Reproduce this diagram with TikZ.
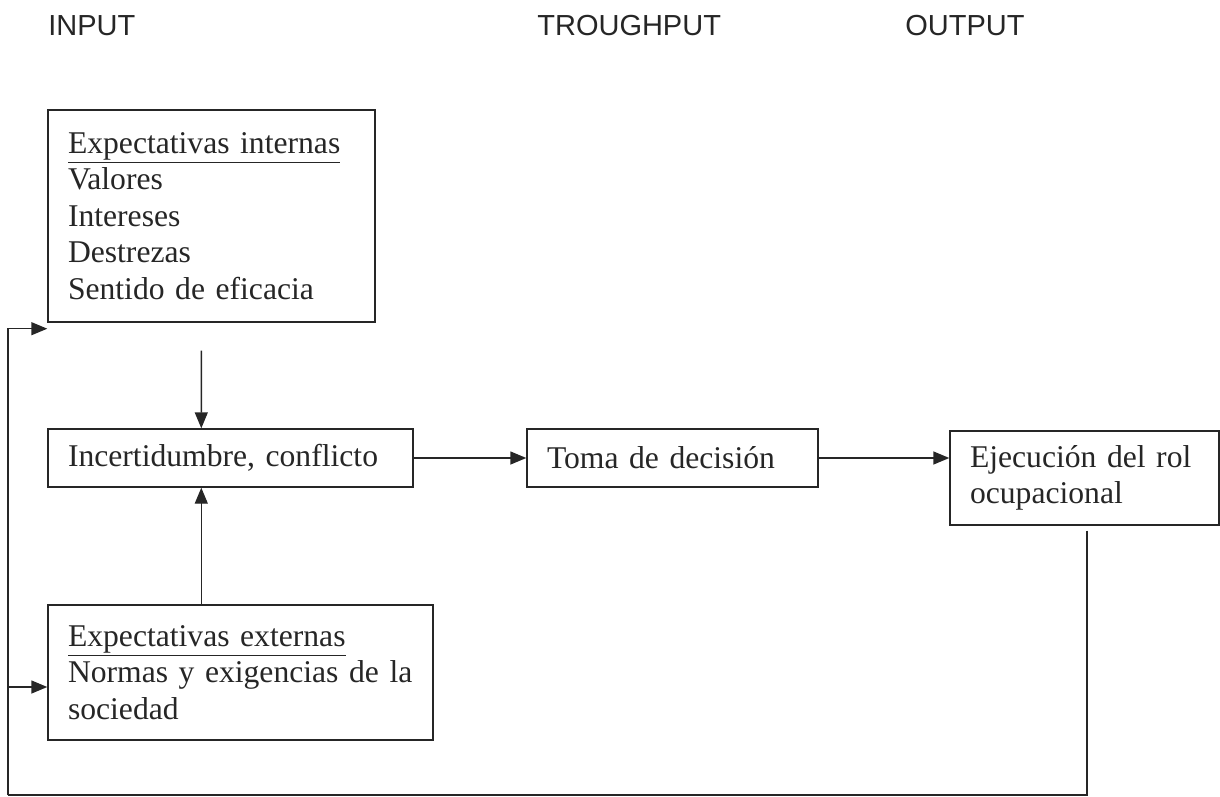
\documentclass[tikz,border=0pt]{standalone}
\usepackage{fontspec}
\setmainfont{Liberation Serif}[WordSpace=0.8]
\newfontfamily\headfont{Liberation Sans}
\usepackage{tikz}
\usetikzlibrary{arrows.meta}
\usetikzlibrary{calc}
\tikzstyle{block} = [style=draw,
	line width=0.8pt,
	align=left,
	inner xsep=0.4cm,
	font=\fontsize{18}{20.8}\selectfont]
\tikzstyle{arrow} =[-{Triangle[length=3.2mm, width=2.6mm]}, line width=0.8pt]
\tikzstyle{head} = [anchor=base west, inner sep=0pt,
	font=\headfont\fontsize{16.5}{18}\selectfont]

\begin{document}
\begin{tikzpicture}[color=black!85]
			\useasboundingbox (0,0) rectangle (24.4,-15.94);
			
			\node (hin) [head] at (0.96,-0.72) {INPUT};
			\node (hthr) [head] at (10.74,-0.72) {TROUGHPUT};
			\node (hout) [head] at (18.1,-0.72) {OUTPUT};
			
			\node (internas) [block, text width=5.74cm, minimum height=4.24cm] at (4.23,-4.32)
				{\underline{Expectativas internas}\\ Valores\\ Intereses\\ Destrezas\\ Sentido de eficacia};
			\node (incert) [block, text width=6.5cm, minimum height=1.16cm] at (4.61,-9.16)
				{Incertidumbre, conflicto};
			\node (externas) [block, text width=6.9cm, minimum height=2.7cm] at (4.81,-13.45)
				{\underline{Expectativas externas}\\ \mbox{Normas y exigencias de la}\\ sociedad};
			\node (toma) [block, text width=5.02cm, minimum height=1.16cm] at (13.45,-9.16)
				{Toma de decisión};
			\node (ejec) [block, text width=4.58cm, minimum height=1.88cm] at (21.69,-9.56)
				{\mbox{Ejecución del rol}\\ ocupacional};
			
			\draw [arrow] ([xshift=3.08cm, yshift=-0.56cm]internas.south west) -- ([xshift=3.08cm]incert.north west);
			\draw [arrow] ([xshift=3.08cm]externas.north west) -- ([xshift=3.08cm]incert.south west);
			\draw [arrow] (incert.east) -- (toma.west);
			\draw [arrow] (toma.east) -- (toma.east -| ejec.west);
			
			% retroalimentacion
			\coordinate (fb) at (0.16,-15.9);
			\draw [line width=0.8pt] ([xshift=0.05cm, yshift=-0.1cm]ejec.south) |- (fb);
			\draw [arrow] (fb) |- ([yshift=-0.12cm]internas.south west);
			\draw [arrow] (fb) |- ([yshift=-0.29cm]externas.west);
		\end{tikzpicture}
\end{document}
